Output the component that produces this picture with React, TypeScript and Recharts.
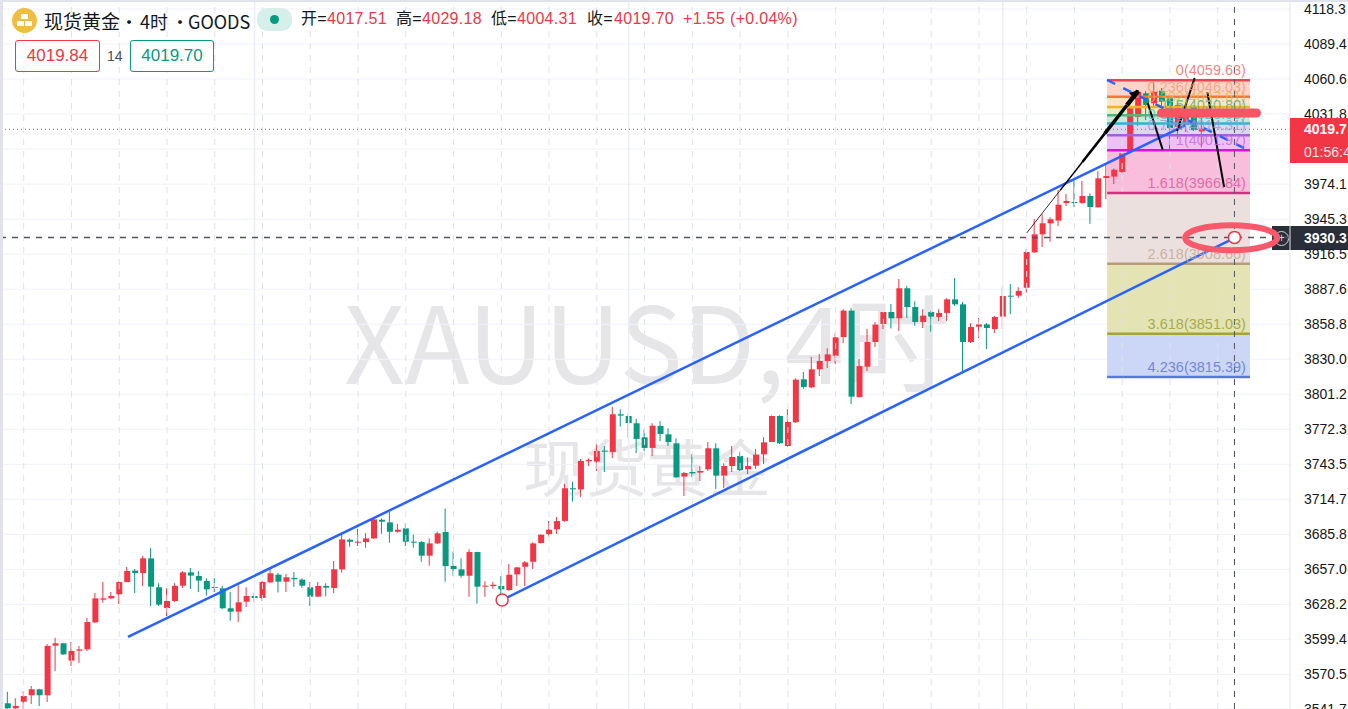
import { Bar, Cell, ComposedChart, CartesianGrid, ReferenceArea, ReferenceDot, ReferenceLine, XAxis, YAxis } from 'recharts';

const opens = [
  3546.8, 3542.7, 3548.1, 3553.4, 3558.3, 3553.4, 3594.2, 3596.2, 3581.9, 3590.1,
  3591.2, 3613.4, 3632.1, 3633.2, 3636.5, 3646.6, 3656, 3654, 3666.1, 3642.3,
  3625.2, 3631, 3643.6, 3654.6, 3651.6, 3647.5, 3642.5, 3641.4, 3625, 3622.2,
  3630.4, 3635.1, 3633.5, 3646.4, 3652.7, 3646.9, 3650, 3648.6, 3642.3, 3634.6,
  3643.4, 3641.7, 3657, 3681.4, 3679, 3679.5, 3682.5, 3697.9, 3695.7, 3688,
  3690.8, 3679.5, 3679.5, 3668.3, 3678.4, 3687.8, 3659.8, 3657, 3651.8, 3671.3,
  3642.8, 3643.3, 3643.3, 3640, 3652.9, 3659.2, 3663.3, 3678.7, 3686.1, 3690,
  3696.9, 3723.8, 3722.9, 3746, 3745.7, 3754.8, 3753.7, 3784.7, 3783.3, 3777.3,
  3765.7, 3757, 3775.1, 3768.2, 3760.8, 3733.4, 3737.2, 3736.7, 3739.4, 3756.7,
  3734.2, 3742.1, 3750.4, 3739.4, 3742.4, 3751.7, 3761.9, 3783.3, 3758.6, 3778.1,
  3813.5, 3806.9, 3821.7, 3828.6, 3832.9, 3848.3, 3870, 3798.9, 3823.9, 3844.2,
  3859, 3868.9, 3863.7, 3888.4, 3873, 3860.7, 3868.9, 3864.8, 3868.1, 3879.3,
  3875.2, 3844.2, 3856.8, 3858.7, 3854.9, 3865.1, 3882.3, 3882.3, 3888.9, 3918,
  3932.8, 3941.9, 3944.1, 3958.6, 3959.4, 3958.6, 3964.4, 3955, 3979.2, 3980.3,
  3984.1, 4000.6, 4029.6, 4048.9, 4040.7, 4051, 4044.8, 4021.4, 4022.8, 4036.8,
  4017.51,
];
const closes = [
  3542.7, 3544.6, 3552.8, 3558.3, 3553.4, 3594, 3596.2, 3587.1, 3589.9, 3591.2,
  3613.7, 3633.2, 3633.2, 3635.1, 3646.6, 3655.7, 3654, 3666.1, 3642.8, 3628,
  3631, 3643.4, 3654.6, 3651.9, 3647.8, 3640.6, 3641.7, 3625, 3622.2, 3629.9,
  3635.1, 3633.5, 3646.6, 3653.8, 3646.9, 3650.5, 3648.9, 3643.6, 3634.6, 3643.4,
  3642, 3657.1, 3681.7, 3679.8, 3679.8, 3682.5, 3698.2, 3696.3, 3688, 3689.7,
  3679.8, 3679, 3668.3, 3678.4, 3686.7, 3659.8, 3657.3, 3651.8, 3671.3, 3642.8,
  3643.6, 3644.4, 3640.6, 3652.6, 3658.7, 3662.8, 3678.4, 3685.6, 3689.7, 3696.8,
  3723.8, 3722.9, 3746.3, 3747.1, 3754.5, 3753.9, 3784.7, 3783.6, 3777.5, 3764.4,
  3757, 3775.3, 3768.5, 3761.9, 3732.8, 3736.4, 3736.1, 3738, 3756.7, 3734.2,
  3742.1, 3749.5, 3738.8, 3742.1, 3751.5, 3761.6, 3783.3, 3760.8, 3778.4, 3813.2,
  3807.2, 3821.7, 3828.6, 3834, 3848, 3870, 3799.2, 3824.4, 3844.2, 3858.5,
  3868.9, 3863.7, 3888.4, 3873, 3860.7, 3865.9, 3865.1, 3868.1, 3879.3, 3875.2,
  3844.2, 3856.5, 3858.7, 3855.7, 3864.8, 3882.1, 3881.5, 3886.2, 3918.3, 3932.8,
  3941.9, 3945.2, 3957.2, 3960.3, 3958.6, 3964.4, 3955.3, 3978.9, 3980.8, 3986,
  3999.5, 4036.6, 4050.2, 4039.3, 4050.2, 4042, 4020.3, 4039.3, 4031, 4018.7,
  4019.7,
];
const highs = [
  3556.4, 3550.9, 3556.9, 3561, 3558.8, 3595.6, 3600.8, 3596.7, 3597.3, 3594,
  3617, 3637.6, 3646.6, 3638.4, 3647.2, 3659, 3657.3, 3668.1, 3674.6, 3645.6,
  3641.7, 3645.6, 3655.4, 3658.2, 3655.7, 3649.7, 3649.7, 3643.4, 3638.4, 3645,
  3642.3, 3637.3, 3647.5, 3657.3, 3654, 3653.2, 3654.9, 3649.7, 3646.6, 3646.6,
  3645.6, 3663.9, 3686.7, 3682.5, 3690.5, 3686.7, 3699, 3699, 3704.5, 3694.3,
  3694.9, 3685.8, 3680.4, 3682.5, 3688.3, 3707.2, 3671.8, 3666.1, 3673.5, 3671.6,
  3647.2, 3646.6, 3651.5, 3661.4, 3658.7, 3663.9, 3679.3, 3685.8, 3696.8, 3700.1,
  3727.3, 3729, 3747.9, 3748.5, 3760.3, 3758.6, 3790.7, 3788.8, 3785.5, 3781.1,
  3772.3, 3777.3, 3779.2, 3773.1, 3764.9, 3737.2, 3752, 3742.1, 3761.9, 3760.8,
  3744.3, 3758.6, 3753.4, 3749.3, 3756.1, 3765.7, 3783.6, 3783.8, 3788.8, 3814.3,
  3819.5, 3832.1, 3834.3, 3839, 3851.3, 3871.1, 3871.9, 3830.2, 3854.9, 3860.7,
  3868.9, 3875.5, 3896.1, 3890.3, 3877.7, 3871.1, 3869.7, 3871.1, 3880.1, 3896.9,
  3877.1, 3859.6, 3864, 3859.8, 3865.6, 3890, 3891.9, 3889.2, 3920.7, 3945.4,
  3949.3, 3946.8, 3969.3, 3966, 3977.5, 3976.7, 3966.6, 3984.7, 3991.3, 3987.1,
  3999.5, 4037.6, 4051.6, 4050.8, 4058.5, 4053.3, 4046.1, 4040.9, 4039.3, 4039.3,
  4029.18,
];
const lows = [
  3540, 3541, 3542.1, 3546.2, 3544.6, 3547.9, 3573.4, 3586.6, 3577.5, 3580,
  3589.9, 3612.9, 3629.6, 3632.6, 3628.5, 3646.4, 3637.6, 3643.4, 3626.9, 3626.9,
  3618.7, 3630.4, 3641.7, 3640.9, 3638.4, 3635.4, 3638.4, 3624.4, 3614.8, 3613.7,
  3626, 3630.2, 3631, 3645.8, 3637.9, 3638.4, 3642.5, 3642, 3626.9, 3634.3,
  3634.6, 3637.6, 3654.3, 3675.7, 3676.2, 3674.9, 3682.3, 3686.4, 3679, 3687.2,
  3676.2, 3674.9, 3663.3, 3660, 3677.9, 3646.9, 3651.5, 3650.2, 3634.5, 3628.8,
  3634.5, 3640.8, 3634, 3639.5, 3643.3, 3643.3, 3657.3, 3678.4, 3684, 3686.1,
  3696.3, 3712.8, 3716.6, 3742.1, 3738, 3737.2, 3748.7, 3774.5, 3765.2, 3752.8,
  3754.5, 3750.4, 3762.7, 3758.6, 3732.5, 3717.4, 3733.1, 3729.8, 3738, 3723.2,
  3723.8, 3737.2, 3738, 3735.6, 3739.7, 3743.8, 3761.9, 3760.3, 3758, 3777.5,
  3805.8, 3806.3, 3816.2, 3822.8, 3826.1, 3843.1, 3793.2, 3798.4, 3820.3, 3840.1,
  3854.9, 3855.4, 3853.3, 3864, 3857.6, 3855.7, 3852.4, 3861.5, 3861.5, 3873.8,
  3820.3, 3843.4, 3847.5, 3838.4, 3851.6, 3854.9, 3867.2, 3880.4, 3884.8, 3917.4,
  3922.4, 3926.8, 3939.7, 3956.1, 3955.3, 3958, 3941.6, 3954.8, 3961.9, 3974.2,
  3983.6, 3999.8, 4022, 4026.9, 4036.8, 4032.7, 4001.4, 4011.3, 4017, 4017.9,
  4004.31,
];

const priceTicks = [
  3541.7, 3570.5, 3599.4, 3628.2, 3657, 3685.8, 3714.7, 3743.5, 3772.3, 3801.2, 3830,
  3858.8, 3887.6, 3916.5, 3945.3, 3974.1, 4003, 4031.8, 4060.6, 4089.4, 4118.3,
];
const gridCandles = [2, 8, 14, 20, 26, 32, 38, 44, 50, 56, 62, 68, 74, 80, 86, 92, 98, 104, 110, 116, 122, 128, 134, 140, 146, 152];
const dayCandles = [31, 78, 125];

const fibLevels = [
  { ratio: '0', price: 4059.63, line: '#f0434f', fill: '#fdd4c8', text: '#f4655a' },
  { ratio: '0.236', price: 4046.03, line: '#f7743a', fill: '#fde6c8', text: '#f59a6a' },
  { ratio: '0.382', price: 4037.61, line: '#f5b41e', fill: '#e4efc6', text: '#e8b53c' },
  { ratio: '0.5', price: 4030.8, line: '#4cb87a', fill: '#c6ebd8', text: '#57b184' },
  { ratio: '0.618', price: 4023.99, line: '#2bb5d8', fill: '#dcd6f1', text: '#4cb9cf' },
  { ratio: '0.786', price: 4014.31, line: '#a25fd6', fill: '#efc0f5', text: '#b08ee0' },
  { ratio: '1', price: 4001.97, line: '#e010d4', fill: '#f8bedb', text: '#c566e0' },
  { ratio: '1.618', price: 3966.84, line: '#d62f80', fill: '#ebe0dd', text: '#e0519c' },
  { ratio: '2.618', price: 3908.66, line: '#b89b78', fill: '#e3e3b4', text: '#c4a594' },
  { ratio: '3.618', price: 3851.03, line: '#a6a33c', fill: '#ccd7f7', text: '#9a9a2c' },
  { ratio: '4.236', price: 3815.39, line: '#5a78d8', fill: 'none', text: '#5a70d8' },
];
const fibStart = 138.1;
const fibEnd = 156.05;

const channelLines = [
  { from: [15.1, 3601.4], to: [147.9, 4022.4] },
  { from: [62.1, 3631.8], to: [154.2, 3930.2] },
];
const fibDiagonal = { from: [138.1, 4059.85], to: [156.05, 4001.4] };
const blackStrokes = [
  { from: [128, 3933.9], to: [132.2, 3969], width: 0.8 },
  { from: [132.2, 3969], to: [135, 3992.35], width: 1.5 },
  { from: [135, 3992.35], to: [137.8, 4015.7], width: 2.5 },
  { from: [137.8, 4015.7], to: [140.6, 4039.1], width: 3.5 },
  { from: [140.6, 4039.1], to: [142, 4050.8], width: 4.5 },
  { from: [143.2, 4040.9], to: [145.1, 4002.2], width: 2 },
  { from: [146.9, 4017.9], to: [149.1, 4061.5], width: 2 },
  { from: [150.7, 4049.9], to: [152.8, 3971.8], width: 2 },
];
const circleMarks = [
  [62.1, 3631.8],
  [154.1, 3930.3],
];
const crossCandle = 154.1;
const crossPrice = 3930.3;
const lastPrice = 4019.3;

const candles = opens.map((open, i) => ({
  i,
  wick: [lows[i], highs[i]],
  body: [Math.min(open, closes[i]), Math.max(open, closes[i])],
  up: closes[i] >= open,
}));

const RED = '#f23645';
const GREEN = '#089981';
const BLUE = '#2962ff';
const GRID = '#f0f3fa';
const xDomain = [-0.98, 161.08];
const yDomain = [3542.1, 4125.7];
const cjk = '"Noto Sans CJK SC", "Liberation Sans", sans-serif';
const latin = '"Liberation Sans", "Noto Sans CJK SC", sans-serif';

function abs(left: number, top: number, extra: React.CSSProperties = {}): React.CSSProperties {
  return { position: 'absolute', left, top, whiteSpace: 'nowrap', ...extra };
}

function Header() {
  const quote = { fontFamily: latin, fontSize: 16, letterSpacing: 0.3, lineHeight: '22px' };
  const word = { ...quote, color: '#131722' };
  const value = { ...quote, color: RED };
  const title = { fontFamily: cjk, fontSize: 18, lineHeight: '24px', color: '#131722' };
  return (
    <>
      <div style={abs(12, 8, { width: 25, height: 25, borderRadius: '50%', background: '#f0bc42' })}>
        <div style={abs(9, 6, { width: 7, height: 5, background: '#fff' })} />
        <div style={abs(5, 13, { width: 7, height: 5, background: '#fff' })} />
        <div style={abs(13, 13, { width: 7, height: 5, background: '#fff' })} />
      </div>
      <span style={abs(44, 9, { ...title, fontSize: 19 })}>现货黄金</span>
      <span style={abs(120, 9, title)}>•</span>
      <span style={abs(140, 9, title)}>4时</span>
      <span style={abs(171, 9, title)}>•</span>
      <span style={abs(188, 9, title)}>GOODS</span>
      <div style={abs(257, 8, { width: 35, height: 23, borderRadius: 10, background: '#d6efeb' })}>
        <div style={abs(13, 7, { width: 9, height: 9, borderRadius: '50%', background: GREEN })} />
      </div>
      <span style={abs(301, 8, word)}>开=</span>
      <span style={abs(327, 8, value)}>4017.51</span>
      <span style={abs(396, 8, word)}>高=</span>
      <span style={abs(422, 8, value)}>4029.18</span>
      <span style={abs(491, 8, word)}>低=</span>
      <span style={abs(517, 8, value)}>4004.31</span>
      <span style={abs(587, 8, word)}>收=</span>
      <span style={abs(614, 8, value)}>4019.70</span>
      <span style={abs(683, 8, value)}>+1.55</span>
      <span style={abs(730, 8, value)}>(+0.04%)</span>
      <div style={abs(15, 40, { boxSizing: 'border-box', width: 85, height: 32, border: `1px solid ${RED}`, borderRadius: 3, color: RED, fontFamily: latin, fontSize: 17, lineHeight: '30px', textAlign: 'center', background: '#fff' })}>4019.84</div>
      <span style={abs(107, 47, { fontFamily: latin, fontSize: 14, lineHeight: '18px', color: '#4a4e59' })}>14</span>
      <div style={abs(130, 40, { boxSizing: 'border-box', width: 84, height: 32, border: `1px solid ${GREEN}`, borderRadius: 3, color: GREEN, fontFamily: latin, fontSize: 17, lineHeight: '30px', textAlign: 'center', background: '#fff' })}>4019.70</div>
    </>
  );
}

const tagText = { fontFamily: latin, fontSize: 14, color: '#fff', paddingLeft: 14, boxSizing: 'border-box' as const, overflow: 'hidden' };

// sits under the chart so the drawn ellipse crosses it
function CrossTag() {
  return (
    <>
      <div style={abs(1290, 226, { ...tagText, width: 58, height: 24, background: '#2a2e39', fontWeight: 700, lineHeight: '24px' })}>3930.3</div>
      <div style={abs(1272, 226, { width: 18, height: 24, background: '#2a2e39' })} />
      <div style={abs(1274, 231, { boxSizing: 'border-box', width: 15, height: 15, borderRadius: '50%', border: '1px solid #d1d4dc', color: '#d1d4dc', fontFamily: latin, fontSize: 12, lineHeight: '12px', textAlign: 'center' })}>+</div>
    </>
  );
}

function PriceTags() {
  return (
    <>
      <div style={abs(1290, 118, { ...tagText, width: 58, height: 23, background: RED, fontWeight: 700, lineHeight: '23px' })}>4019.7</div>
      <div style={abs(1290, 141, { ...tagText, width: 58, height: 22, background: RED, color: '#ffe3e5', lineHeight: '22px' })}>01:56:4</div>
    </>
  );
}

export default function App() {
  return (
    <div style={{ position: 'fixed', left: 0, top: 0, width: 1348, height: 709, overflow: 'hidden', background: '#fff' }}>
      <div style={abs(344, 273, { fontFamily: cjk, fontSize: 106, lineHeight: '130px', color: '#e6e6e9' })}>XAUUSD,4时</div>
      <div style={abs(523, 423, { fontFamily: cjk, fontSize: 62, lineHeight: '84px', color: '#e6e6e9' })}>现货黄金</div>
      <CrossTag />
      <div style={{ position: 'absolute', left: 0, top: 0 }}>
        <ComposedChart width={1348} height={709} data={candles} margin={{ top: 0, right: 0, bottom: 0, left: 0 }}>
          <CartesianGrid vertical={false} stroke={GRID} />
          <XAxis xAxisId="body" type="number" dataKey="i" domain={xDomain} allowDataOverflow hide />
          <XAxis xAxisId="wick" type="number" dataKey="i" domain={xDomain} allowDataOverflow hide />
          <YAxis
            orientation="right"
            width={58}
            type="number"
            domain={yDomain}
            ticks={priceTicks}
            interval={0}
            allowDataOverflow
            tickLine={false}
            axisLine={{ stroke: '#e0e3eb' }}
            tickMargin={8}
            tick={{ fill: '#131722', fontSize: 14, fontFamily: latin, textAnchor: 'start' }}
            tickFormatter={(v: number) => v.toFixed(1)}
          />
          {gridCandles.map((c) => (
            <ReferenceLine key={c} xAxisId="body" x={c} stroke="#dfe2ea" strokeDasharray="6 6" />
          ))}
          {dayCandles.map((c) => (
            <ReferenceLine key={c} xAxisId="body" x={c} stroke="#eceef5" strokeWidth={1.5} />
          ))}
          {fibLevels.slice(0, -1).map((lvl, k) =>
            lvl.fill === 'none' ? null : (
              <ReferenceArea
                key={lvl.ratio}
                xAxisId="body"
                x1={fibStart}
                x2={fibEnd}
                y1={fibLevels[k + 1].price}
                y2={lvl.price}
                fill={lvl.fill}
                fillOpacity={1}
                stroke="none"
              />
            ),
          )}
          {fibLevels.map((lvl) => (
            <ReferenceLine
              key={lvl.ratio}
              xAxisId="body"
              segment={[{ x: fibStart, y: lvl.price }, { x: fibEnd, y: lvl.price }]}
              stroke={lvl.line}
              strokeWidth={2.5}
            />
          ))}
          {fibLevels.map((lvl) => (
            <ReferenceDot
              key={`label-${lvl.ratio}`}
              xAxisId="body"
              x={fibEnd}
              y={lvl.price}
              shape={(p: any) => (
                <text x={p.cx - 4} y={p.cy - 5} textAnchor="end" fill={lvl.text} fillOpacity={0.8} fontSize={14.5} fontFamily={latin}>
                  {`${lvl.ratio}(${lvl.price.toFixed(2)})`}
                </text>
              )}
            />
          ))}
          <ReferenceLine y={lastPrice} xAxisId="body" stroke={RED} strokeDasharray="1 3" />
          {channelLines.map((l) => (
            <ReferenceLine
              key={l.from[0]}
              xAxisId="body"
              segment={[{ x: l.from[0], y: l.from[1] }, { x: l.to[0], y: l.to[1] }]}
              stroke={BLUE}
              strokeWidth={2.5}
            />
          ))}
          <ReferenceLine
            xAxisId="body"
            segment={[{ x: fibDiagonal.from[0], y: fibDiagonal.from[1] }, { x: fibDiagonal.to[0], y: fibDiagonal.to[1] }]}
            stroke={BLUE}
            strokeWidth={2.5}
            strokeDasharray="9 9"
          />
          <Bar xAxisId="wick" dataKey="wick" barSize={1} isAnimationActive={false}>
            {candles.map((c) => (
              <Cell key={c.i} fill={c.up ? RED : GREEN} />
            ))}
          </Bar>
          <Bar xAxisId="body" dataKey="body" barSize={6} minPointSize={1} isAnimationActive={false}>
            {candles.map((c) => (
              <Cell key={c.i} fill={c.up ? RED : GREEN} />
            ))}
          </Bar>
          {blackStrokes.map((s) => (
            <ReferenceLine
              key={`${s.from[0]}-${s.to[0]}`}
              xAxisId="body"
              segment={[{ x: s.from[0], y: s.from[1] }, { x: s.to[0], y: s.to[1] }]}
              stroke="#000"
              strokeWidth={s.width}
            />
          ))}
          <ReferenceDot
            xAxisId="body"
            x={142.1}
            y={4051.6}
            shape={(p: any) => <path d={`M${p.cx} ${p.cy}l-10 3l6 6z`} fill="#000" />}
          />
          <ReferenceLine y={crossPrice} xAxisId="body" stroke="#50535e" strokeWidth={1.5} strokeDasharray="6 6" />
          <ReferenceLine x={crossCandle} xAxisId="body" stroke="#50535e" strokeDasharray="6 6" />
          <ReferenceDot
            xAxisId="body"
            x={150.9}
            y={4032.7}
            shape={(p: any) => <rect x={p.cx - 52} y={p.cy - 4.5} width={104} height={9} rx={4.5} fill="#f75563" />}
          />
          {circleMarks.map((m) => (
            <ReferenceDot key={m[0]} xAxisId="body" x={m[0]} y={m[1]} r={6} fill="#fff" stroke={RED} strokeWidth={1.5} />
          ))}
          <ReferenceDot
            xAxisId="body"
            x={153.7}
            y={3930}
            shape={(p: any) => <ellipse cx={p.cx} cy={p.cy} rx={46} ry={12.5} fill="none" stroke="#f9596a" strokeWidth={6} />}
          />
        </ComposedChart>
      </div>
      <Header />
      <PriceTags />
      <div style={{ position: 'absolute', left: 0, top: 0, width: 3, height: 709, background: '#e0e3eb' }} />
      <div style={{ position: 'absolute', left: 0, top: 0, width: 1348, height: 2, background: '#e0e3eb' }} />
    </div>
  );
}
